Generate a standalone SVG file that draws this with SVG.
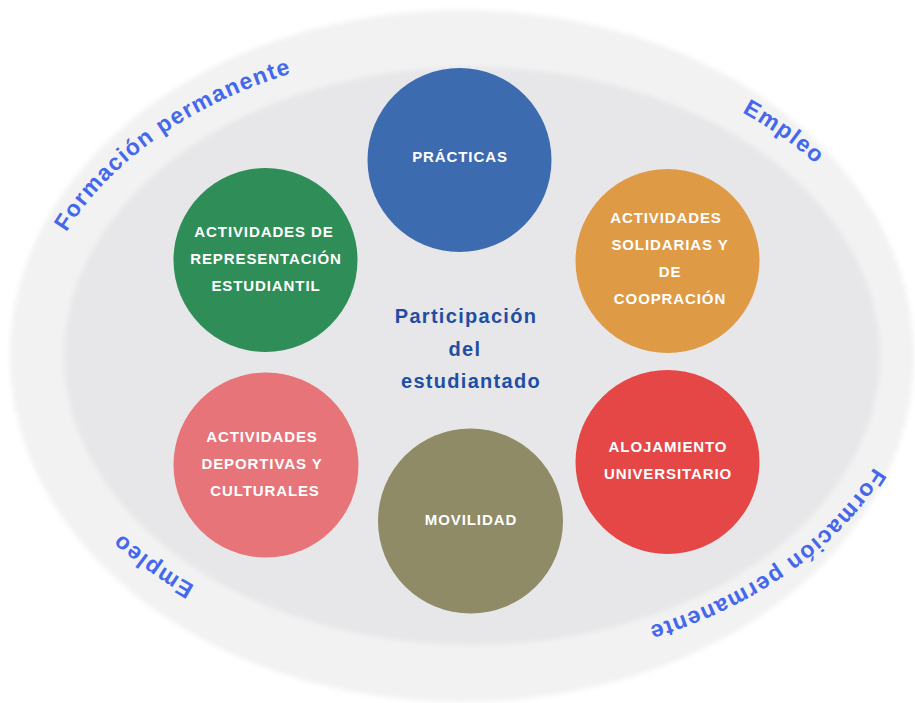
<svg xmlns="http://www.w3.org/2000/svg" xmlns:xlink="http://www.w3.org/1999/xlink" width="915" height="703" viewBox="0 0 915 703">
  <defs>
    <filter id="soft" x="-5%" y="-5%" width="110%" height="110%">
      <feGaussianBlur stdDeviation="2.5"/>
    </filter>
    <!-- clockwise elliptical baseline for the ring captions -->
    <path id="ring" d="M 32,350 A 438 303 0 1 1 908,350 A 438 303 0 1 1 32,350"/>
    <style>
      .lbl { font-family: "Liberation Sans", Arial, sans-serif; font-weight: 700; font-size: 15px; letter-spacing: 0.9px; fill: #ffffff; text-anchor: middle; }
      .core { font-family: "Liberation Sans", Arial, sans-serif; font-weight: 700; font-size: 20px; letter-spacing: 1.3px; fill: #1f4ea3; text-anchor: middle; }
      .ring { font-family: "Liberation Sans", Arial, sans-serif; font-weight: 700; font-size: 23px; letter-spacing: 1.4px; fill: #4468ec; }
    </style>
  </defs>

  <rect width="915" height="703" fill="#ffffff"/>

  <!-- background bands -->
  <g id="bands">
    <ellipse cx="462" cy="356" rx="452" ry="346" fill="#f2f2f3" filter="url(#soft)"/>
    <ellipse cx="472" cy="356" rx="408" ry="289" fill="#e7e7e9" filter="url(#soft)"/>
  </g>

  <!-- ring captions, one word per run along the ring -->
  <g id="ring-labels" class="ring">
    <text><textPath xlink:href="#ring" startOffset="124">Formación</textPath></text>
    <text><textPath xlink:href="#ring" startOffset="262">permanente</textPath></text>
    <text><textPath xlink:href="#ring" startOffset="869">Empleo</textPath></text>
    <text><textPath xlink:href="#ring" startOffset="1297">Formación</textPath></text>
    <text><textPath xlink:href="#ring" startOffset="1435">permanente</textPath></text>
    <text><textPath xlink:href="#ring" startOffset="2046">Empleo</textPath></text>
  </g>

  <g id="practicas">
    <circle cx="459.5" cy="160" r="92" fill="#3d6bb0"/>
    <text class="lbl" x="460" y="161.5">PRÁCTICAS</text>
  </g>

  <g id="representacion">
    <circle cx="265.5" cy="260" r="92" fill="#2f8d58"/>
    <text class="lbl" x="264" y="236.5">ACTIVIDADES DE</text>
    <text class="lbl" x="266" y="263.5">REPRESENTACIÓN</text>
    <text class="lbl" x="266" y="290.5">ESTUDIANTIL</text>
  </g>

  <g id="solidarias">
    <circle cx="667.5" cy="261" r="92" fill="#df9a46"/>
    <text class="lbl" x="666" y="223">ACTIVIDADES</text>
    <text class="lbl" x="670" y="250">SOLIDARIAS Y</text>
    <text class="lbl" x="670" y="277">DE</text>
    <text class="lbl" x="670" y="303.5">COOPRACIÓN</text>
  </g>

  <g id="deportivas">
    <circle cx="266" cy="465" r="92.5" fill="#e77479"/>
    <text class="lbl" x="262" y="441.5">ACTIVIDADES</text>
    <text class="lbl" x="262" y="468.5">DEPORTIVAS Y</text>
    <text class="lbl" x="265" y="495.5">CULTURALES</text>
  </g>

  <g id="movilidad">
    <circle cx="470.5" cy="521" r="92.5" fill="#8f8b66"/>
    <text class="lbl" x="471" y="524.5">MOVILIDAD</text>
  </g>

  <g id="alojamiento">
    <circle cx="667.5" cy="462" r="92" fill="#e54646"/>
    <text class="lbl" x="668" y="451.5">ALOJAMIENTO</text>
    <text class="lbl" x="668" y="478.5">UNIVERSITARIO</text>
  </g>

  <g id="centro">
    <text class="core" x="466" y="323">Participación</text>
    <text class="core" x="465" y="356">del</text>
    <text class="core" x="471" y="388">estudiantado</text>
  </g>
</svg>
